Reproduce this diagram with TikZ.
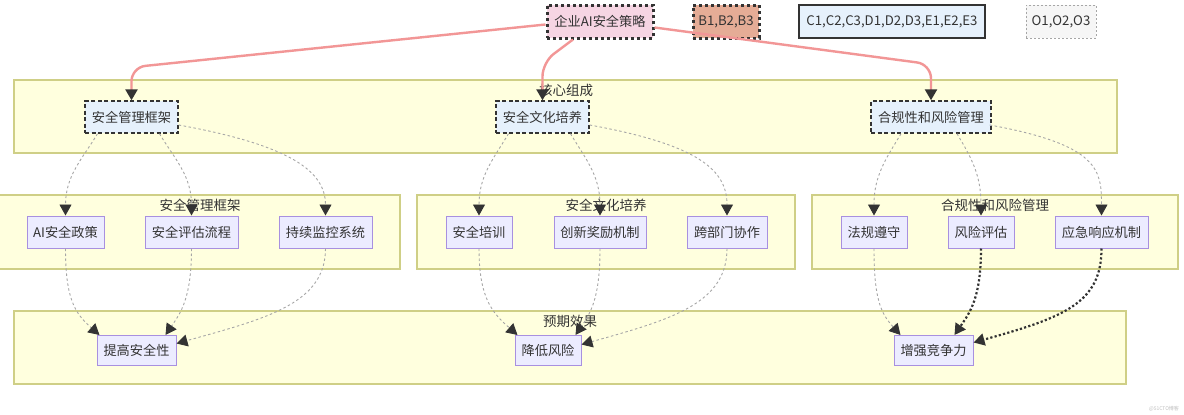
\documentclass[tikz,border=0pt]{standalone}
\usepackage{fontspec}
\setmainfont{Noto Sans CJK SC}
\usetikzlibrary{arrows.meta,calc}
\definecolor{txt}{HTML}{333333}
\definecolor{clfill}{HTML}{FFFFDE}
\definecolor{cldraw}{HTML}{CFCF86}
\definecolor{nfill}{HTML}{ECECFF}
\definecolor{ndraw}{HTML}{A890E0}
\definecolor{bluefill}{HTML}{E6F1FC}
\definecolor{pinkfill}{HTML}{F6D5E3}
\definecolor{salmonfill}{HTML}{E5AC96}
\definecolor{greyfill}{HTML}{F6F6F6}
\definecolor{pinkline}{HTML}{F29696}
\definecolor{greyline}{HTML}{A6A6A6}
\tikzset{
  base/.style={font=\fontsize{13.2}{16}\selectfont, text=txt, inner sep=0pt, minimum height=32pt, align=center},
  plain/.style={base, fill=nfill, draw=ndraw, line width=1pt},
  corebox/.style={base, fill=bluefill, draw=txt, line width=1.4pt, dash pattern=on 4pt off 2.5pt},
  dotbox/.style={base, draw=txt, line width=3pt, dash pattern=on 3pt off 3pt},
  cluster/.style={fill=clfill, draw=cldraw, line width=1.2pt},
  cltitle/.style={font=\fontsize{13.5}{16}\selectfont, text=txt, inner sep=0pt},
  pinkarrow/.style={draw=pinkline, line width=2.4pt, rounded corners=14pt, arrows={-{Triangle[length=11pt,width=12pt,color=txt]}}},
  greyarrow/.style={draw=greyline, line width=0.9pt, dash pattern=on 2.5pt off 2.5pt, arrows={-{Triangle[length=11pt,width=12pt,color=txt]}}},
  blackarrow/.style={draw=txt, line width=2.2pt, dash pattern=on 2.2pt off 2.2pt, arrows={-{Triangle[length=11pt,width=12pt,color=txt]}}},
}
\begin{document}
\begin{tikzpicture}[x=1pt,y=-1pt]
\useasboundingbox (0,0) rectangle (1184,415);
\fill[white] (0,0) rectangle (1184,415);

% clusters
\draw[cluster] (14,80) rectangle (1117,153);
\node[cltitle] (tcore) at (566,90) {核心组成};
\draw[cluster] (-2,195) rectangle (400,269);
\node[cltitle] (tg1) at (200,205) {安全管理框架};
\draw[cluster] (417,195) rectangle (795,269);
\node[cltitle] (tg2) at (606,205) {安全文化培养};
\draw[cluster] (812,195) rectangle (1178,269);
\node[cltitle] (tg3) at (995,205) {合规性和风险管理};
\draw[cluster] (14,311) rectangle (1126,384);
\node[cltitle] (tres) at (570,321) {预期效果};

% top row
\node[dotbox, fill=pinkfill, minimum width=106pt, minimum height=33pt] (top) at (600,21.5) {企业AI安全策略};
\node[dotbox, fill=salmonfill, minimum width=66pt, minimum height=33pt] (b) at (726,21.5) {B1,B2,B3};
\node[base, fill=bluefill, draw=txt, line width=1.8pt, minimum width=186pt, minimum height=33pt] (c) at (892,21.5) {C1,C2,C3,D1,D2,D3,E1,E2,E3};
\node[base, fill=greyfill, draw=greyline, line width=1pt, dash pattern=on 2pt off 2pt, minimum width=70pt, minimum height=33pt] (o) at (1061,21.5) {O1,O2,O3};

% core
\node[corebox, minimum width=93pt] (c1) at (131.5,117) {安全管理框架};
\node[corebox, minimum width=93pt] (c2) at (542.5,117) {安全文化培养};
\node[corebox, minimum width=120pt] (c3) at (931,117) {合规性和风险管理};

% row 2
\node[plain, minimum width=77pt] (ai) at (65.5,232) {AI安全政策};
\node[plain, minimum width=93pt] (ev) at (191.5,232) {安全评估流程};
\node[plain, minimum width=93pt] (mo) at (325.5,232) {持续监控系统};
\node[plain, minimum width=66pt] (tr) at (479,232) {安全培训};
\node[plain, minimum width=92pt] (in) at (600,232) {创新奖励机制};
\node[plain, minimum width=80pt] (cr) at (727,232) {跨部门协作};
\node[plain, minimum width=66pt] (law) at (874,232) {法规遵守};
\node[plain, minimum width=66pt] (ri) at (981,232) {风险评估};
\node[plain, minimum width=93pt] (em) at (1101.5,232) {应急响应机制};

% results
\node[plain, minimum width=79pt, minimum height=30pt] (imp) at (136.5,350.5) {提高安全性};
\node[plain, minimum width=66pt, minimum height=30pt] (red) at (548,350.5) {降低风险};
\node[plain, minimum width=79pt, minimum height=30pt] (comp) at (933.5,350.5) {增强竞争力};

% watermark
\node[font=\fontsize{5}{6}\selectfont, text=black!25, inner sep=0pt] (wm) at (1164,409) {@51CTO博客};

% strategy -> core
\draw[pinkarrow] ($(top.west)+(0,3)$) -- ($(c1.north)+(0,-33)$) -- (c1.north);
\draw[pinkarrow] ($(top.south)+(-27,0)$) -- ($(c2.north)+(0,-38)$) -- (c2.north);
\draw[pinkarrow] ($(top.east)+(0,6)$) -- ($(c3.north)+(0,-36)$) -- (c3.north);

% core -> row2
\draw[greyarrow] ($(c1.south)+(-34,0)$) .. controls +(-15,25) and +(0,-40) .. (ai.north);
\draw[greyarrow] ($(c1.south)+(28,0)$) .. controls +(15,25) and +(0,-40) .. (ev.north);
\draw[greyarrow] ($(c1.east)+(0,8)$) .. controls +(110,20) and +(0,-45) .. (mo.north);
\draw[greyarrow] ($(c2.south)+(-34,0)$) .. controls +(-15,25) and +(0,-40) .. (tr.north);
\draw[greyarrow] ($(c2.south)+(28,0)$) .. controls +(15,25) and +(0,-40) .. (in.north);
\draw[greyarrow] ($(c2.east)+(0,8)$) .. controls +(110,20) and +(0,-45) .. (cr.north);
\draw[greyarrow] ($(c3.south)+(-30,0)$) .. controls +(-15,25) and +(0,-40) .. (law.north);
\draw[greyarrow] ($(c3.south)+(26,0)$) .. controls +(15,25) and +(0,-40) .. (ri.north);
\draw[greyarrow] ($(c3.east)+(-2,8)$) .. controls +(110,20) and +(0,-45) .. (em.north);

% row2 -> results
\draw[greyarrow] (ai.south) .. controls +(0,50) and +(-25,-22) .. ($(imp.north west)+(3,0)$);
\draw[greyarrow] (ev.south) .. controls +(0,50) and +(15,-22) .. ($(imp.north east)+(-11,0)$);
\draw[greyarrow] (mo.south) .. controls +(0,55) and +(90,-25) .. ($(imp.east)+(0,-7)$);
\draw[greyarrow] (tr.south) .. controls +(0,50) and +(-25,-22) .. ($(red.north west)+(3,0)$);
\draw[greyarrow] (in.south) .. controls +(0,50) and +(15,-22) .. ($(red.north east)+(-6,0)$);
\draw[greyarrow] (cr.south) .. controls +(0,55) and +(90,-25) .. ($(red.east)+(0,-6)$);
\draw[greyarrow] (law.south) .. controls +(0,50) and +(-20,-22) .. ($(comp.north west)+(7,0)$);
\draw[blackarrow] (ri.south) .. controls +(0,50) and +(15,-22) .. ($(comp.north)+(21,0)$);
\draw[blackarrow] (em.south) .. controls +(0,55) and +(90,-25) .. ($(comp.east)+(0,-8)$);
\end{tikzpicture}
\end{document}
